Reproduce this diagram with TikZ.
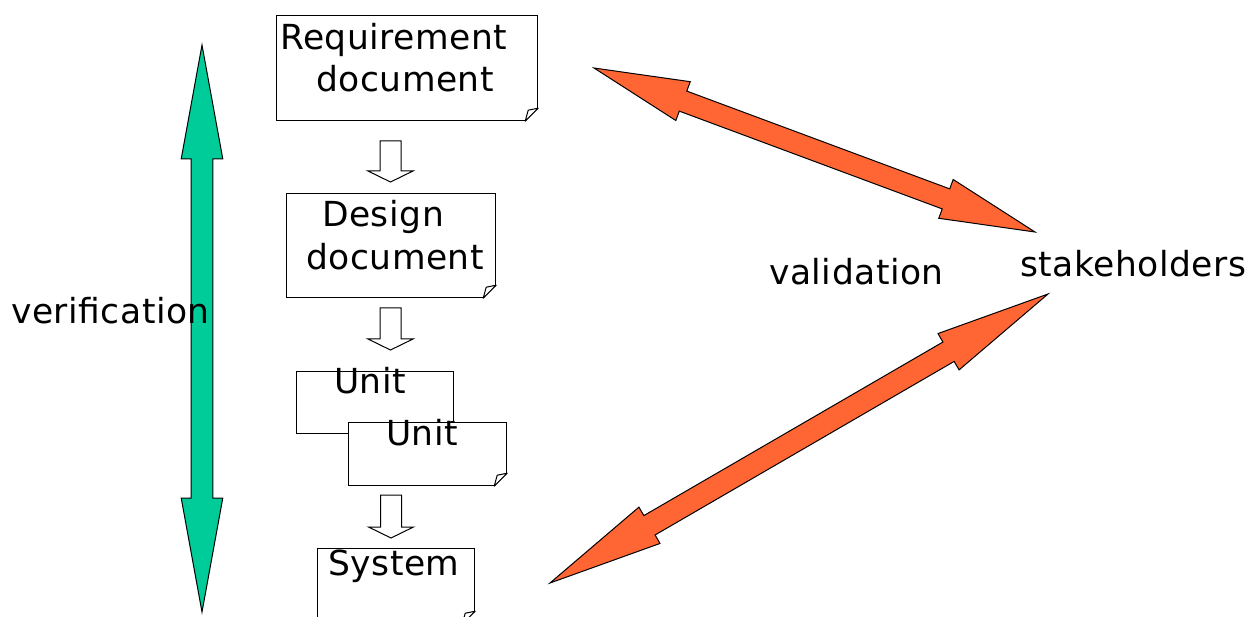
\documentclass[tikz,border=0pt]{standalone}
\usepackage{fontspec}
\setmainfont{DejaVu Sans}[LetterSpace=1.5]
\usetikzlibrary{calc}

\definecolor{vergreen}{RGB}{0,204,153}
\definecolor{valorange}{RGB}{255,102,51}

\tikzset{
  docbox/.style={draw, fill=white, line width=1.2pt, inner sep=0pt, anchor=north west},
  word/.style={inner sep=0pt, anchor=base west, font=\fontsize{34.5}{42}\selectfont},
  blockline/.style={draw=black, line width=1pt, line join=miter},
  hollow/.style={draw=black, fill=white, line width=1pt},
}

% two-way block arrow: colour, tip, tip, head length, head half width, shaft half width
\newcommand\twowayarrow[6]{%
  \path[blockline, fill=#1] (#2)
    -- ($(#2)!#4!(#3)!#5!90:(#3)$)
    -- ($(#2)!#4!(#3)!#6!90:(#3)$)
    -- ($(#3)!#4!(#2)!#6!-90:(#2)$)
    -- ($(#3)!#4!(#2)!#5!-90:(#2)$)
    -- (#3)
    -- ($(#3)!#4!(#2)!#5!90:(#2)$)
    -- ($(#3)!#4!(#2)!#6!90:(#2)$)
    -- ($(#2)!#4!(#3)!#6!-90:(#3)$)
    -- ($(#2)!#4!(#3)!#5!-90:(#3)$)
    -- cycle;}

% open arrow pointing down, from tail to tip
\newcommand\hollowarrow[2]{%
  \path[hollow] let \p1=(#1), \p2=(#2) in
    (\x1-10.5pt,\y1) -- (\x1+10.5pt,\y1) -- (\x1+10.5pt,\y2+11pt)
    -- (\x1+22.5pt,\y2+11pt) -- (\x2,\y2) -- (\x1-22.5pt,\y2+11pt)
    -- (\x1-10.5pt,\y2+11pt) -- cycle;}

% dog-ear at the lower right corner of a document
\newcommand\pagefold[1]{%
  \fill[white] ([xshift=-14pt,yshift=-1.5pt]#1.south east)
    -- ([xshift=1.5pt,yshift=-1.5pt]#1.south east)
    -- ([xshift=1.5pt,yshift=14pt]#1.south east) -- cycle;
  \draw[line width=1pt, line join=round] ([xshift=-13pt]#1.south east)
    -- ([yshift=13pt]#1.south east)
    -- ([xshift=-10pt,yshift=11pt]#1.south east) -- cycle;}

\begin{document}
\begin{tikzpicture}[x=1pt, y=-1pt]
  \clip (0,0) rectangle (1255,617);

  % verification
  \coordinate (vtop) at (202,45);
  \coordinate (vbot) at (202,612);
  \twowayarrow{vergreen}{vtop}{vbot}{114pt}{20.8pt}{10.8pt}
  \node[word] (verif) at (11,324) {verification};

  % documents
  \node[docbox, minimum width=261pt, minimum height=105pt] (req) at (276,15) {};
  \pagefold{req}
  \node[word] (req1) at ([shift={(4,35)}]req.north west) {Requirement};
  \node[word] (req2) at ([shift={(40,77)}]req.north west) {document};

  \node[docbox, minimum width=209pt, minimum height=104pt] (des) at (286,193) {};
  \pagefold{des}
  \node[word] (des1) at ([shift={(36,34)}]des.north west) {Design};
  \node[word] (des2) at ([shift={(20,77)}]des.north west) {document};

  \node[docbox, minimum width=157pt, minimum height=62pt] (unitA) at (296,371) {};
  \pagefold{unitA}
  \node[word] (unitA1) at ([shift={(38,22)}]unitA.north west) {Unit};

  \node[docbox, minimum width=158pt, minimum height=63pt] (unitB) at (348,422) {};
  \pagefold{unitB}
  \node[word] (unitB1) at ([shift={(38,23)}]unitB.north west) {Unit};

  \node[docbox, minimum width=157pt, minimum height=75pt] (sys) at (317,548) {};
  \pagefold{sys}
  \node[word] (sys1) at ([shift={(11,27)}]sys.north west) {System};

  % refinement steps
  \coordinate (s1) at (390.5,141);  \coordinate (t1) at (390.5,182);
  \coordinate (s2) at (390.5,308);  \coordinate (t2) at (390.5,350);
  \coordinate (s3) at (391,495);    \coordinate (t3) at (391,538);
  \hollowarrow{s1}{t1}
  \hollowarrow{s2}{t2}
  \hollowarrow{s3}{t3}

  % validation
  \node[word] (valid) at (769,285) {validation};
  \node[word] (stake) at (1020,277) {stakeholders};
  \coordinate (oa1) at (594,68);   \coordinate (oa2) at (1035,232);
  \coordinate (ob1) at (550,583);  \coordinate (ob2) at (1048,294);
  \twowayarrow{valorange}{oa1}{oa2}{95pt}{20.7pt}{10.7pt}
  \twowayarrow{valorange}{ob1}{ob2}{115pt}{21pt}{11.2pt}
\end{tikzpicture}
\end{document}
